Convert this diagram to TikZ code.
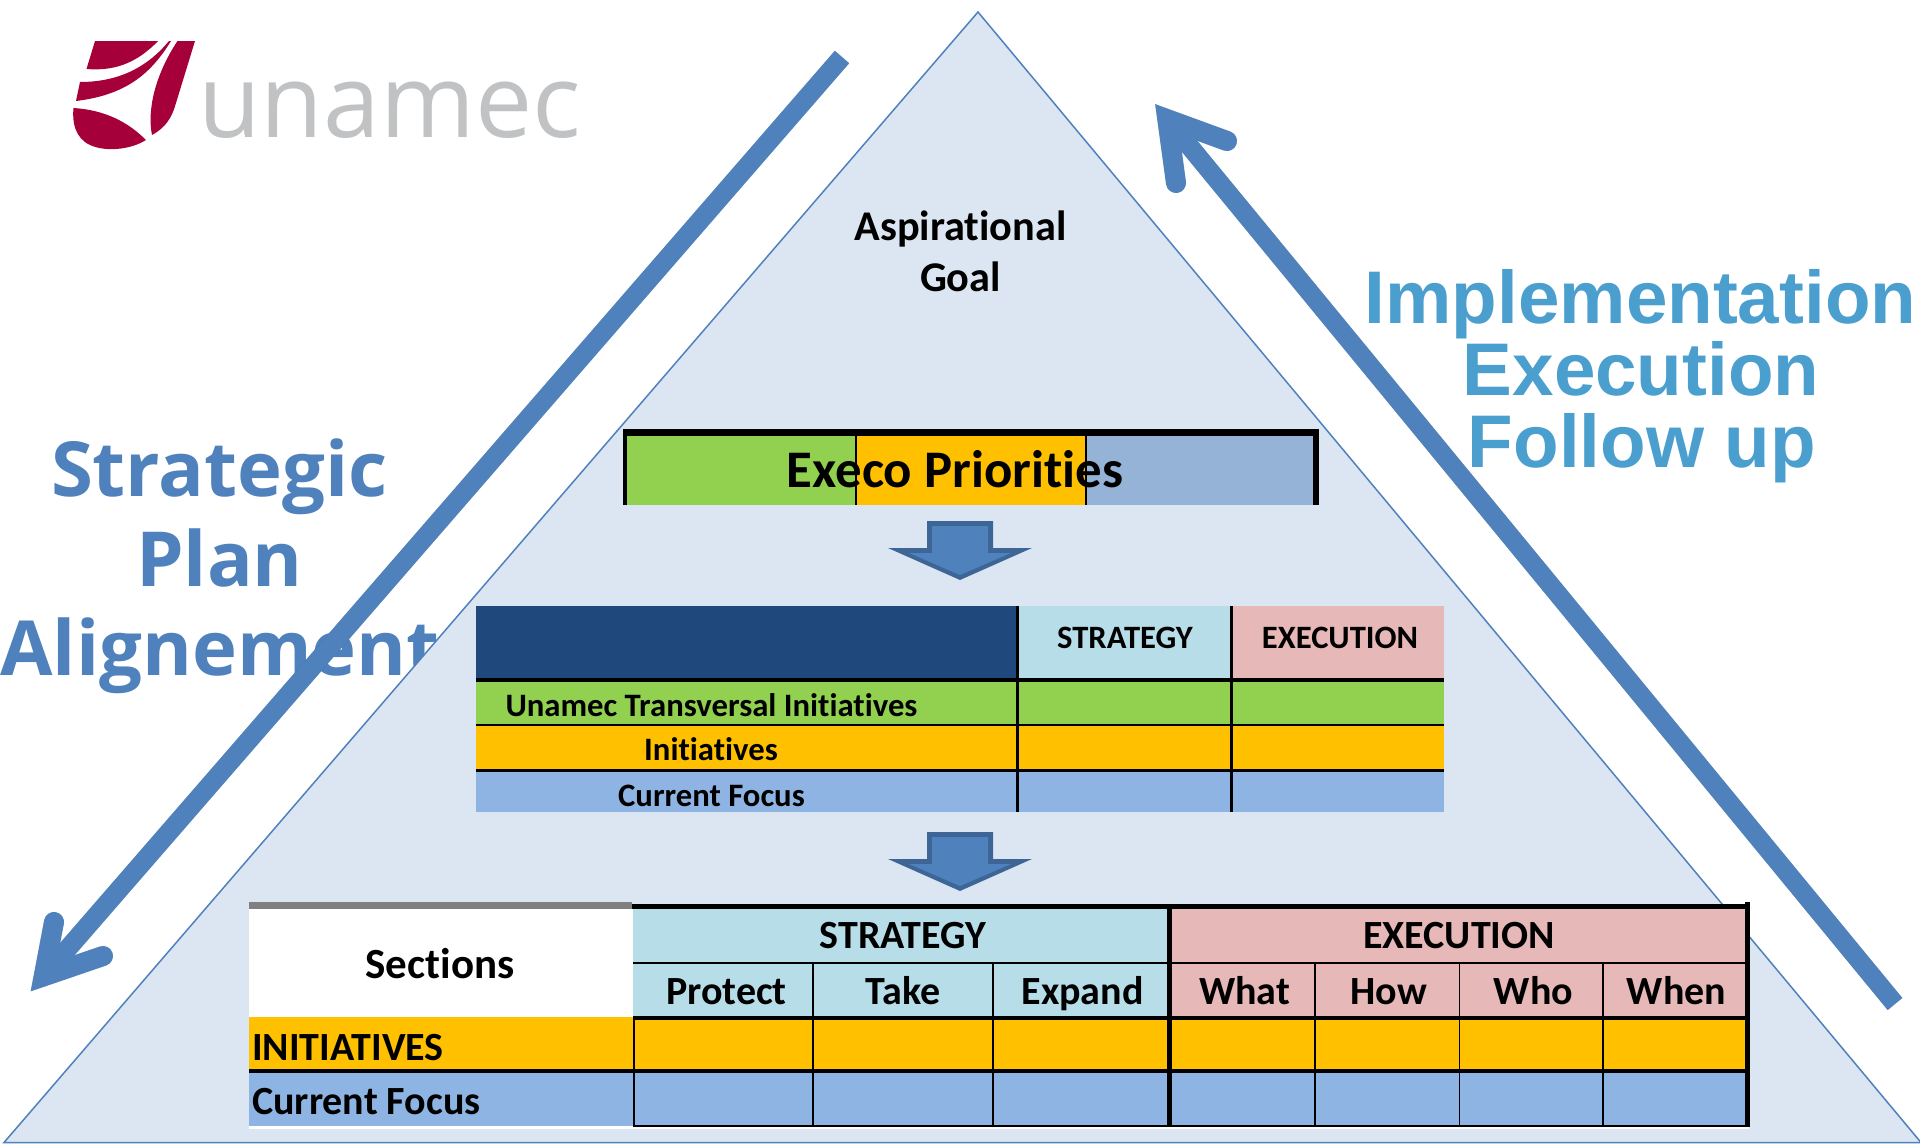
\documentclass[tikz,border=0pt]{standalone}
\usepackage{fontspec}
\setmainfont{Carlito}[Ligatures=NoCommon]
\newfontfamily\headfont{Open Sans}
\newfontfamily\sidefont{Liberation Sans}
\newfontfamily\logofont{Open Sans}
\definecolor{pyramidfill}{HTML}{DCE6F2}
\definecolor{pyramidline}{HTML}{4F81BD}
\definecolor{arrowblue}{HTML}{4F81BD}
\definecolor{arrowedge}{HTML}{3D6596}
\definecolor{sideblue}{HTML}{4A9FCE}
\definecolor{navycell}{HTML}{1F497D}
\definecolor{strategycell}{HTML}{B7DDE8}
\definecolor{executioncell}{HTML}{E6B8B7}
\definecolor{greenrow}{HTML}{92D050}
\definecolor{orangerow}{HTML}{FFC000}
\definecolor{bluerow}{HTML}{8DB4E2}
\definecolor{execoblue}{HTML}{95B3D7}
\definecolor{logored}{HTML}{A6003A}
\definecolor{logogrey}{HTML}{C0C2C4}
\tikzset{
every node/.style={inner sep=0pt, anchor=base}, % all labels sit on their baseline
bigarrow/.style={arrowblue, line width=19pt}, % the two long arrows
arrowhead/.style={arrowblue, line width=20pt, line cap=round, line join=miter, miter limit=10},
softshadow/.style={black, opacity=.10},
tabletext/.style={font=\bfseries\fontsize{32.7}{33}\selectfont},
headtext/.style={font=\bfseries\fontsize{32.6}{33}\selectfont},
subtext/.style={font=\bfseries\fontsize{40}{40}\selectfont},
goaltext/.style={font=\bfseries\fontsize{42.3}{42}\selectfont},
lefttext/.style={arrowblue, font=\headfont\bfseries\fontsize{76}{76}\selectfont},
righttext/.style={sideblue, font=\sidefont\bfseries\fontsize{74.6}{75}\selectfont},
}
\begin{document}
\begin{tikzpicture}[x=1pt, y=-1pt]
    \path[use as bounding box, fill=white] (0,0) rectangle (1920,1144);

    % logo
    \fill[logored] (95,41) -- (158,41) .. controls (135,65) and (112,71) .. (86.5,69) -- cycle;
    \fill[logored] (80,82) .. controls (115,82) and (145,70) .. (169,41) -- (171,41) .. controls (150,75) and (125,95) .. (76,101) -- cycle;
    \fill[logored] (177.5,41) -- (195,41) -- (176,103) .. controls (172,118) and (165,128) .. (152,135) .. controls (147,110) and (155,75) .. (177.5,41) -- cycle;
    \fill[logored] (73.5,108) .. controls (105,110) and (128,122) .. (146,140) .. controls (130,150) and (105,152) .. (90,145) .. controls (75,138) and (72,122) .. (73.5,108) -- cycle;
    \node[logogrey, font=\logofont\fontsize{102}{102}\selectfont] (logoname) at (389.5,137) {unamec};

    % left side text goes under the pyramid
    \node[lefttext] (strategic) at (219.5,496) {Strategic};
    \node[lefttext] (plan) at (219.5,586) {Plan};
    \node[lefttext] (alignement) at (220,675) {Alignement};

    \filldraw[fill=pyramidfill, draw=pyramidline, line width=1.5pt] (978,12) -- (4,1142.5) -- (1921,1142.5) -- cycle;

    \node[goaltext] (aspirational) at (960.5,240) {Aspirational};
    \node[goaltext] (goal) at (960.5,291) {Goal};

    % execo priorities bar
    \fill[greenrow] (625,432) rectangle (856,505);
    \fill[orangerow] (856,432) rectangle (1086,505);
    \fill[execoblue] (1086,432) rectangle (1314,505);
    \fill[black] (623,429) rectangle (1319,436);
    \fill[black] (623,429) rectangle (627,505);
    \fill[black] (1312.5,429) rectangle (1319,505);
    \draw[line width=2pt] (855.5,436) -- (855.5,505);
    \draw[line width=2pt] (1086,436) -- (1086,505);
    \node[font=\bfseries\fontsize{52.8}{53}\selectfont] (execo) at (955,487) {Execo Priorities};

    % block arrows between the tables
    \foreach \y in {0,311} {
        \fill[arrowedge] (927,521+\y) -- (993,521+\y) -- (993,548+\y) -- (1032,548+\y) -- (960,580+\y) -- (888,548+\y) -- (927,548+\y) -- cycle;
        \fill[arrowblue] (932,526+\y) -- (988,526+\y) -- (988,553+\y) -- (1011,553+\y) -- (960,575+\y) -- (909,553+\y) -- (932,553+\y) -- cycle;
    }

    % middle table
    \fill[navycell] (476,606) rectangle (1017,680);
    \fill[strategycell] (1017,606) rectangle (1232,680);
    \fill[executioncell] (1232,606) rectangle (1444,680);
    \fill[greenrow] (476,680) rectangle (1444,725);
    \fill[orangerow] (476,725) rectangle (1444,770);
    \fill[bluerow] (476,770) rectangle (1444,812);
    \draw[line width=4pt] (476,680) -- (1444,680);
    \draw[line width=2pt] (476,725) -- (1444,725);
    \draw[line width=3pt] (476,770.5) -- (1444,770.5);
    \draw[line width=3pt] (1017.5,606) -- (1017.5,812);
    \draw[line width=3pt] (1231.5,606) -- (1231.5,812);
    \node[headtext] (midstrategy) at (1125,648) {STRATEGY};
    \node[headtext] (midexecution) at (1340,648) {EXECUTION};
    \node[tabletext] (transversal) at (711.5,716) {Unamec Transversal Initiatives};
    \node[tabletext] (midinitiatives) at (711,760) {Initiatives};
    \node[tabletext] (midfocus) at (711.5,806) {Current Focus};

    % bottom table
    \fill[white] (249,909) rectangle (1749,1129);
    \fill[gray] (249,902) rectangle (632,909);
    \fill[strategycell] (633,909) rectangle (1168,1016);
    \fill[executioncell] (1168,909) rectangle (1745,1016);
    \fill[orangerow] (249,1017) rectangle (1745,1070);
    \fill[bluerow] (249,1070) rectangle (1745,1126);
    \fill[black] (632,904) rectangle (1749.5,909);
    \fill[black] (1744.5,902) rectangle (1749.5,1127);
    \draw[line width=2pt] (633,963) -- (1745,963);
    \draw[line width=4pt] (633,1018) -- (1745,1018);
    \draw[line width=4pt] (249,1070.5) -- (1745,1070.5);
    \draw[line width=2pt] (633,1125.5) -- (1745,1125.5);
    \draw[line width=5pt] (1169.5,909) -- (1169.5,1126);
    \draw[line width=1.5pt] (634,1017) -- (634,1126);
    \foreach \x in {813,993,1315,1459.5,1603} {
        \draw[line width=1.5pt] (\x,963) -- (\x,1126);
    }
    \node[font=\bfseries\fontsize{43}{43}\selectfont] (sections) at (440,978) {Sections};
    \node[subtext] (strategy) at (903,948) {STRATEGY};
    \node[subtext] (execution) at (1459,948) {EXECUTION};
    \node[subtext] (protect) at (726.5,1004) {Protect};
    \node[subtext] (take) at (903,1004) {Take};
    \node[subtext] (expand) at (1082.5,1004) {Expand};
    \node[subtext] (what) at (1244.5,1004) {What};
    \node[subtext] (how) at (1388.5,1004) {How};
    \node[subtext] (who) at (1533.5,1004) {Who};
    \node[subtext] (when) at (1676.5,1004) {When};
    \node[subtext, anchor=base west] (initiatives) at (252,1060) {INITIATIVES};
    \node[subtext, anchor=base west] (focus) at (252,1114) {Current Focus};

    % long arrows
    \coordinate (leftstart) at (842,57);
    \coordinate (leftbend) at (43.7,976.3);
    \coordinate (leftwinga) at (54,922);
    \coordinate (leftwingb) at (103,956);
    \coordinate (rightstart) at (1895,1004);
    \coordinate (rightbend) at (1167.3,119.2);
    \coordinate (rightwinga) at (1176,183);
    \coordinate (rightwingb) at (1227,141);
    \foreach \s in {2,4} {
        \draw[bigarrow, softshadow, shift={(\s,\s)}] (leftstart) -- (leftbend);
        \draw[arrowhead, softshadow, shift={(\s,\s)}] (leftwinga) -- (leftbend) -- (leftwingb);
        \draw[bigarrow, softshadow, shift={(-\s,\s)}] (rightstart) -- (rightbend);
        \draw[arrowhead, softshadow, shift={(-\s,\s)}] (rightwinga) -- (rightbend) -- (rightwingb);
    }
    \draw[bigarrow] (leftstart) -- (leftbend);
    \draw[arrowhead] (leftwinga) -- (leftbend) -- (leftwingb);
    \draw[bigarrow] (rightstart) -- (rightbend);
    \draw[arrowhead] (rightwinga) -- (rightbend) -- (rightwingb);

    \node[righttext] (implementation) at (1640.5,323) {Implementation};
    \node[righttext] (executionline) at (1641,395) {Execution};
    \node[righttext] (followup) at (1642,467) {Follow up};
\end{tikzpicture}
\end{document}
